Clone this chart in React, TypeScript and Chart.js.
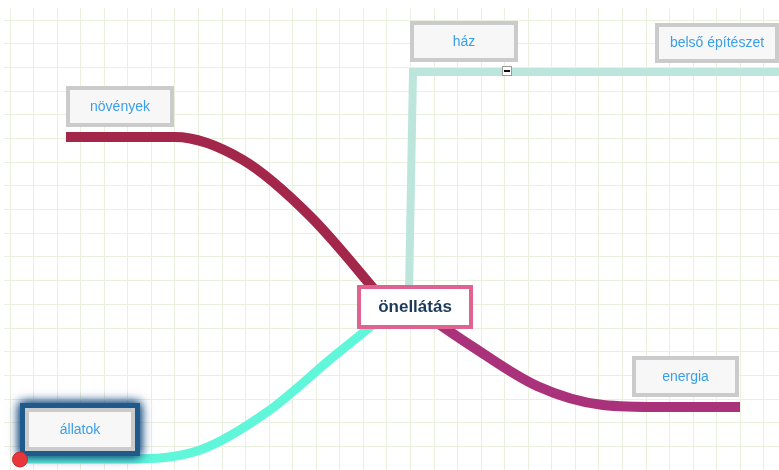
import React, { useEffect, useRef } from "react";
import { Chart, registerables } from "chart.js";

Chart.register(...registerables);

// ---- Mind map nodes (centre positions in page pixels) ----
const nodeLabels = ["önellátás", "növények", "ház", "belső építészet", "energia", "állatok"];
const nodeX = [415, 120, 464, 717, 685.5, 80];
const nodeY = [307, 106.5, 41.5, 43, 376.5, 429.5];

// ---- Branch way-points ----
const novenyekX = [66, 175, 243, 310, 385];
const novenyekY = [137, 137, 160, 216, 302];

const hazX = [409, 413, 779];
const hazY = [292, 72, 72];

const energiaX = [430, 470, 537, 603, 660, 740];
const energiaY = [318, 345, 386, 405, 407, 407];

const allatokX = [20, 130, 200, 267, 333, 385];
const allatokY = [459, 459, 450, 412, 357, 315];

const markerX = [20];
const markerY = [459.5];

const toggleX = [507];
const toggleY = [71];

// ---- styles ----
const NODE_W = [116, 108, 108, 124, 107, 110];
const NODE_H = [44, 41, 41, 40, 41, 43];
const GRID_START_X = 10;
const GRID_STEP_X = 23.56;
const GRID_START_Y = 20;
const GRID_STEP_Y = 23.7;

const gridX: number[] = [];
for (let v = GRID_START_X; v <= 779; v += GRID_STEP_X) gridX.push(v);
const gridY: number[] = [];
for (let v = GRID_START_Y; v <= 470; v += GRID_STEP_Y) gridY.push(v);

const pts = (xs: number[], ys: number[]) => xs.map((x, i) => ({ x, y: ys[i] }));

const mindmapPlugin = {
  id: "mindmap",
  afterDatasetsDraw(chart: any) {
    const { ctx } = chart;
    const sx = chart.scales.x;
    const sy = chart.scales.y;
    ctx.save();
    nodeLabels.forEach((label, i) => {
      const cx = sx.getPixelForValue(nodeX[i]);
      const cy = sy.getPixelForValue(nodeY[i]);
      const w = NODE_W[i];
      const h = NODE_H[i];
      const left = cx - w / 2;
      const top = cy - h / 2;
      if (i === 5) {
        // selected glow
        ctx.save();
        ctx.shadowColor = "rgba(24,78,128,1)";
        ctx.shadowBlur = 10;
        ctx.fillStyle = "#1E5A8A";
        ctx.fillRect(left - 5, top - 5, w + 10, h + 10);
        ctx.fillRect(left - 5, top - 5, w + 10, h + 10);
        ctx.restore();
      }
      ctx.fillStyle = i === 0 ? "#FFFFFF" : "#F7F7F7";
      ctx.fillRect(left, top, w, h);
      ctx.lineWidth = 4;
      ctx.strokeStyle = i === 0 ? "#E0628E" : "#CBCBCB";
      ctx.strokeRect(left + 2, top + 2, w - 4, h - 4);
      ctx.textAlign = "center";
      ctx.textBaseline = "middle";
      if (i === 0) {
        ctx.font = "bold 17px 'Liberation Sans', Arial, sans-serif";
        ctx.fillStyle = "#1B3A5B";
      } else {
        ctx.font = "14px 'Liberation Sans', Arial, sans-serif";
        ctx.fillStyle = "#3A9FE5";
      }
      ctx.fillText(label, cx, cy + 0.5);
    });

    // red selection marker
    const mx = sx.getPixelForValue(markerX[0]);
    const my = sy.getPixelForValue(markerY[0]);
    ctx.beginPath();
    ctx.arc(mx, my, 7.5, 0, Math.PI * 2);
    ctx.fillStyle = "#E8363A";
    ctx.fill();
    ctx.lineWidth = 1;
    ctx.strokeStyle = "#C42A2E";
    ctx.stroke();

    // collapse toggle
    const tx = sx.getPixelForValue(toggleX[0]);
    const ty = sy.getPixelForValue(toggleY[0]);
    ctx.fillStyle = "#FFFFFF";
    ctx.fillRect(tx - 5, ty - 5, 10, 10);
    ctx.strokeStyle = "#9A9A9A";
    ctx.lineWidth = 1;
    ctx.strokeRect(tx - 4.5, ty - 4.5, 9, 9);
    ctx.fillStyle = "#111111";
    ctx.fillRect(tx - 3, ty - 1, 6, 2);
    ctx.restore();
  },
};

const bgPlugin = {
  id: "bg",
  beforeDraw(chart: any) {
    const { ctx, width, height } = chart;
    ctx.save();
    ctx.fillStyle = "#FFFFFF";
    ctx.fillRect(0, 0, width, height);
    ctx.restore();
  },
};

export default function App() {
  const ref = useRef<HTMLCanvasElement | null>(null);
  useEffect(() => {
    if (!ref.current) return;
    const line = (xs: number[], ys: number[], color: string, width: number, curved: boolean) => ({
      data: pts(xs, ys),
      borderColor: color,
      backgroundColor: color,
      borderWidth: width,
      showLine: true,
      pointRadius: 0,
      fill: false,
      borderJoinStyle: "miter" as const,
      borderCapStyle: "butt" as const,
      cubicInterpolationMode: curved ? ("monotone" as const) : ("default" as const),
      tension: 0,
    });
    const chart = new Chart(ref.current, {
      type: "scatter",
      data: {
        datasets: [
          line(hazX, hazY, "#BCE5DC", 8, false),
          line(novenyekX, novenyekY, "#A3264B", 10, true),
          line(energiaX, energiaY, "#A9327B", 10, true),
          line(allatokX, allatokY, "#5FF6DA", 9, true),
        ] as any,
      },
      options: {
        responsive: false,
        animation: false,
        events: [],
        layout: { padding: { left: 4, top: 8, right: 0, bottom: 0 } },
        plugins: { legend: { display: false }, tooltip: { enabled: false } },
        scales: {
          x: {
            type: "linear",
            min: 4,
            max: 779,
            afterBuildTicks: (s: any) => {
              s.ticks = gridX.map((v) => ({ value: v }));
            },
            ticks: { display: false },
            grid: { color: "#E9F0DD", lineWidth: 1, drawTicks: false },
            border: { display: false },
          },
          y: {
            type: "linear",
            min: 8,
            max: 470,
            reverse: true,
            afterBuildTicks: (s: any) => {
              s.ticks = gridY.map((v) => ({ value: v }));
            },
            ticks: { display: false },
            grid: { color: "#E9F0DD", lineWidth: 1, drawTicks: false },
            border: { display: false },
          },
        },
      } as any,
      plugins: [bgPlugin, mindmapPlugin],
    });
    return () => chart.destroy();
  }, []);
  return (
    <div style={{ position: "fixed", left: 0, top: 0, width: 779, height: 470, background: "#fff" }}>
      <canvas ref={ref} width={779} height={470} style={{ display: "block", width: 779, height: 470 }} />
    </div>
  );
}
